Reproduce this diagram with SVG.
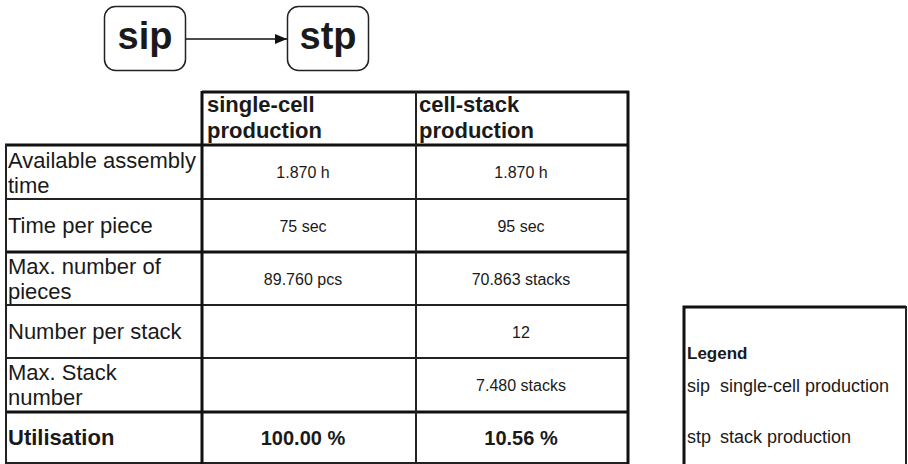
<svg xmlns="http://www.w3.org/2000/svg" width="908" height="464" viewBox="0 0 908 464">
  <defs>
    <marker id="arrow" viewBox="0 0 12 10" refX="12" refY="5" markerWidth="12" markerHeight="10" markerUnits="userSpaceOnUse" orient="auto">
      <path d="M0,0 L12,5 L0,10 Z" fill="#111"/>
    </marker>
  </defs>
  <style>
    text { font-family: "Liberation Sans", Arial, sans-serif; fill: #1a1a1a; }
    .node { fill: #fff; stroke: #222; stroke-width: 1.5; }
    .nlabel { font-size: 38px; font-weight: bold; text-anchor: middle; }
    .thick { stroke: #111; stroke-width: 3; fill: none; }
    .thin { stroke: #222; stroke-width: 2; fill: none; }
    .lbl { font-size: 22px; }
    .hdr { font-size: 22px; font-weight: bold; }
    .val { font-size: 16px; text-anchor: middle; }
    .bval { font-size: 20px; font-weight: bold; text-anchor: middle; }
    .leg { font-size: 18px; }
    .legh { font-size: 17px; font-weight: bold; }
  </style>

  <rect width="908" height="464" fill="#fff"/>

  <!-- process nodes -->
  <g id="node-sip">
    <rect class="node" x="104.5" y="6.5" width="81" height="64" rx="11"/>
    <text class="nlabel" x="145" y="49">sip</text>
  </g>
  <g id="node-stp">
    <rect class="node" x="287.5" y="6.5" width="81" height="64" rx="11"/>
    <text class="nlabel" x="328" y="49">stp</text>
  </g>

  <g id="connectors">
    <line x1="186" y1="39" x2="287" y2="39" stroke="#111" stroke-width="1.5" marker-end="url(#arrow)"/>
  </g>

  <!-- comparison table -->
  <g id="table">
    <!-- horizontal rules -->
    <line class="thick" x1="202" y1="92" x2="629" y2="92"/>
    <line class="thick" x1="5" y1="145" x2="629" y2="145"/>
    <line class="thin" x1="5" y1="199" x2="629" y2="199"/>
    <line class="thick" x1="5" y1="252" x2="629" y2="252"/>
    <line class="thin" x1="5" y1="305" x2="629" y2="305"/>
    <line class="thin" x1="5" y1="358" x2="629" y2="358"/>
    <line class="thick" x1="5" y1="412" x2="629" y2="412"/>
    <line class="thin" x1="5" y1="463" x2="629" y2="463"/>
    <!-- vertical rules -->
    <line class="thin" x1="6" y1="144" x2="6" y2="464"/>
    <line class="thick" x1="202" y1="91" x2="202" y2="464"/>
    <line class="thin" x1="416" y1="91" x2="416" y2="464"/>
    <line class="thick" x1="628" y1="91" x2="628" y2="464"/>

    <!-- headers -->
    <text class="hdr" x="207" y="112">single-cell</text>
    <text class="hdr" x="207" y="138">production</text>
    <text class="hdr" x="419" y="112">cell-stack</text>
    <text class="hdr" x="419" y="138">production</text>

    <!-- row labels -->
    <text class="lbl" x="8" y="168">Available assembly</text>
    <text class="lbl" x="8" y="193">time</text>
    <text class="lbl" x="8" y="233">Time per piece</text>
    <text class="lbl" x="8" y="274">Max. number of</text>
    <text class="lbl" x="8" y="299">pieces</text>
    <text class="lbl" x="8" y="339">Number per stack</text>
    <text class="lbl" x="8" y="380">Max. Stack</text>
    <text class="lbl" x="8" y="405">number</text>
    <text class="lbl" x="8" y="445" font-weight="bold">Utilisation</text>

    <!-- single-cell values -->
    <text class="val" x="303" y="178">1.870 h</text>
    <text class="val" x="303" y="232">75 sec</text>
    <text class="val" x="303" y="285">89.760 pcs</text>
    <text class="bval" x="303" y="445">100.00 %</text>

    <!-- cell-stack values -->
    <text class="val" x="521" y="178">1.870 h</text>
    <text class="val" x="521" y="232">95 sec</text>
    <text class="val" x="521" y="285">70.863 stacks</text>
    <text class="val" x="521" y="338">12</text>
    <text class="val" x="521" y="391">7.480 stacks</text>
    <text class="bval" x="521" y="445">10.56 %</text>
  </g>

  <!-- legend -->
  <g id="legend">
    <path class="thick" d="M684,464 V307 H906"/>
    <line class="thin" x1="906" y1="306" x2="906" y2="464"/>
    <text class="legh" x="687" y="359">Legend</text>
    <text class="leg" x="687" y="392">sip</text>
    <text class="leg" x="720" y="392">single-cell production</text>
    <text class="leg" x="687" y="443">stp</text>
    <text class="leg" x="720" y="443">stack production</text>
  </g>
</svg>
